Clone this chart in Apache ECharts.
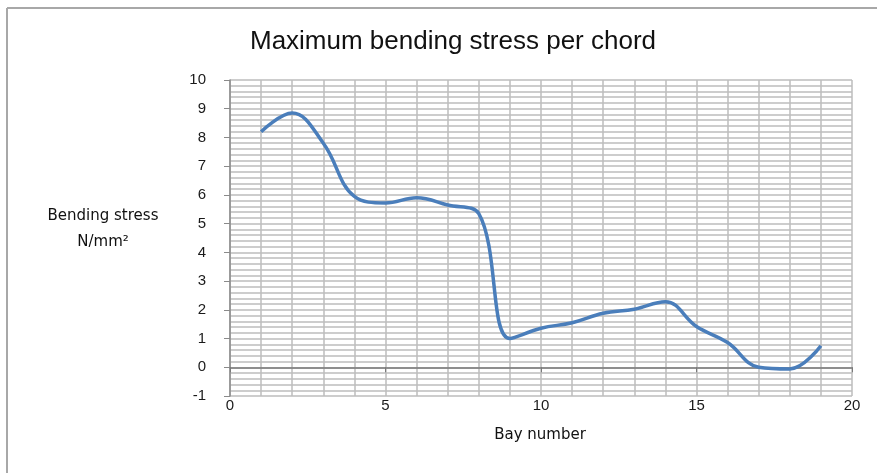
<!DOCTYPE html>
<html>
<head>
<meta charset="utf-8">
<script src="https://cdn.jsdelivr.net/npm/echarts@6/dist/echarts.min.js"></script>
<style>
  html, body { margin: 0; padding: 0; background: #fff; }
  #chart { width: 877px; height: 473px; }
</style>
</head>
<body>
<div id="chart"></div>
<script>
// Bay numbers along the chord and the peak bending stress at each bay (N/mm²)
const bayNumbers = [1, 2, 3, 4, 5, 6, 7, 8, 9, 10, 11, 12, 13, 14, 15, 16, 17, 18, 19];
const bendingStress = [8.2, 8.85, 7.8, 5.95, 5.72, 5.9, 5.65, 5.35, 1.0, 1.36, 1.55, 1.88, 2.02, 2.28, 1.42, 0.86, 0.0, -0.06, 0.75];

const titleText = 'Maximum bending stress per chord';
const xAxisName = 'Bay number';
const yAxisName = 'Bending stress\nN/mm²';

const chart = echarts.init(document.getElementById('chart'));

const gridColor = '#bdbdbd';
const labelFont = { color: '#1a1a1a', fontFamily: 'Liberation Sans', fontSize: 15 };

chart.setOption({
  animation: false,
  backgroundColor: '#fff',
  title: {
    text: titleText,
    left: 448,
    top: 24,
    textAlign: 'center',
    textStyle: { fontFamily: 'Liberation Sans', fontWeight: 'normal', fontSize: 26, color: '#111' }
  },
  graphic: [
    // chart frame (left and top edges)
    { type: 'line', shape: { x1: 7, y1: 8, x2: 877, y2: 8 }, style: { stroke: '#a8a8a8', lineWidth: 2 } },
    { type: 'line', shape: { x1: 7, y1: 8, x2: 7, y2: 473 }, style: { stroke: '#a8a8a8', lineWidth: 2 } },
    {
      type: 'text',
      x: 103, y: 203,
      style: {
        text: yAxisName, align: 'center', verticalAlign: 'top',
        fontFamily: 'DejaVu Sans', fontSize: 15, lineHeight: 26, fill: '#111'
      }
    },
    {
      type: 'text',
      x: 540, y: 428,
      style: {
        text: xAxisName, align: 'center', verticalAlign: 'top',
        fontFamily: 'DejaVu Sans', fontSize: 15, fill: '#111'
      }
    }
  ],
  grid: { left: 230, right: 25, top: 80, bottom: 77, containLabel: false },
  xAxis: [
    {
      type: 'value', min: 0, max: 20, interval: 5,
      axisLine: { show: false, onZero: false },
      axisTick: { show: false },
      axisLabel: { ...labelFont, margin: 2 },
      splitLine: { show: true, lineStyle: { color: gridColor, width: 1.5 } },
      minorTick: { show: false, splitNumber: 5 },
      minorSplitLine: { show: true, lineStyle: { color: gridColor, width: 1.5 } }
    },
    {
      type: 'value', min: 0, max: 20, interval: 5, position: 'bottom',
      axisLine: { show: true, onZero: true, lineStyle: { color: '#7a7a7a', width: 1.5 } },
      axisTick: { show: true, length: 5, lineStyle: { color: '#7a7a7a' } },
      axisLabel: { show: false },
      splitLine: { show: false }
    }
  ],
  yAxis: {
    type: 'value', min: -1, max: 10, interval: 1,
    axisLine: { show: true, lineStyle: { color: '#8a8a8a', width: 1.5 } },
    axisTick: { show: true, length: 6, lineStyle: { color: '#8a8a8a' } },
    axisLabel: { ...labelFont, margin: 24 },
    splitLine: { show: true, lineStyle: { color: gridColor, width: 1.5 } },
    minorTick: { show: false, splitNumber: 5 },
    minorSplitLine: { show: true, lineStyle: { color: gridColor, width: 1.5 } }
  },
  series: [{
    type: 'line',
    xAxisIndex: 0,
    data: bayNumbers.map((b, i) => [b, bendingStress[i]]),
    smooth: 0.4,
    showSymbol: false,
    lineStyle: { color: '#4a7ebb', width: 3.5 }
  }]
});
</script>
</body>
</html>
